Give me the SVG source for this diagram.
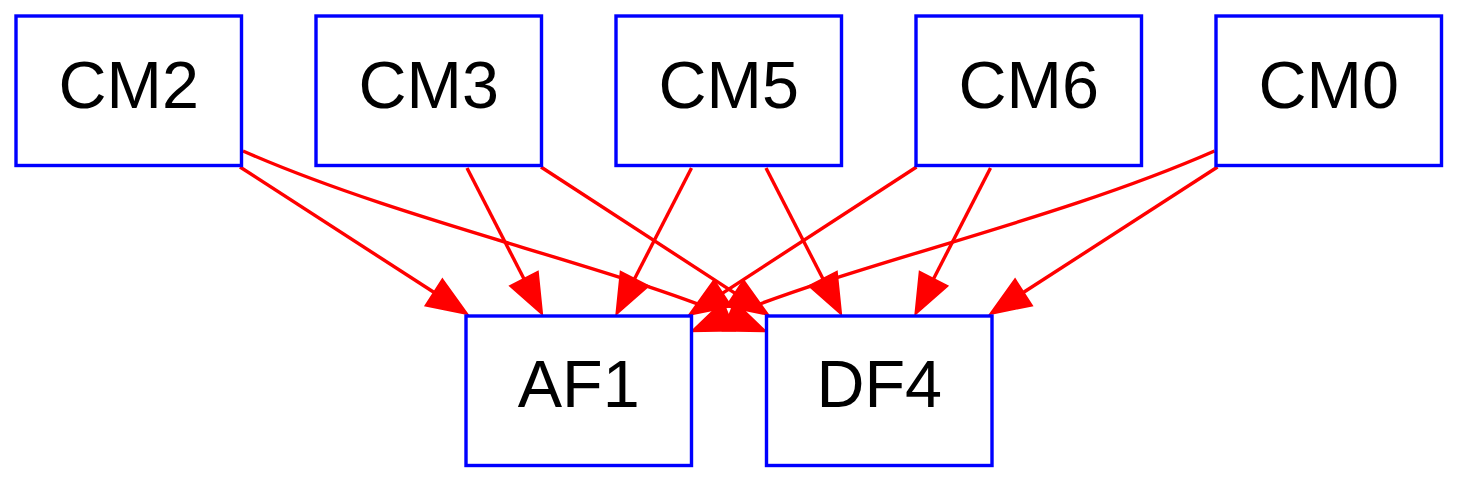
<svg xmlns="http://www.w3.org/2000/svg" width="1458" height="483" viewBox="0 0 1458 483">
  <style>
    .node rect { fill: #ffffff; stroke: #0000ff; stroke-width: 3.4; }
    .node text { font-family: "Liberation Sans", Arial, sans-serif; font-size: 66.5px; fill: #000000; text-anchor: middle; }
    .edge { fill: none; stroke: #ff0000; stroke-width: 3.4; marker-end: url(#ah); }
  </style>
  <defs>
    <marker id="ah" markerUnits="userSpaceOnUse" viewBox="-5 -20 60 40" markerWidth="60" markerHeight="40" refX="0" refY="0" orient="auto" overflow="visible">
      <polygon points="0,-14.5 37,0 0,14.5" fill="#ff0000" stroke="#ff0000" stroke-width="3.4"/>
    </marker>
  </defs>
  <rect x="0" y="0" width="1458" height="483" fill="#ffffff"/>

  <g id="connectors">
    <path class="edge" d="M240,167 L434.6,292.8"/>
    <path class="edge" d="M243,151 C400,220 600,263 729.5,316.4"/>
    <path class="edge" d="M467,168 L524.3,279.5"/>
    <path class="edge" d="M541,167 L735.6,293.6"/>
    <path class="edge" d="M691.5,168 L634.2,279.5"/>
    <path class="edge" d="M766,168 L823.3,279.5"/>
    <path class="edge" d="M916.5,167 L721.9,293.6"/>
    <path class="edge" d="M990.5,168 L933.2,279.5"/>
    <path class="edge" d="M1214.5,151 C1057.5,220 857.5,263 728,316.4"/>
    <path class="edge" d="M1217.5,167 L1022.9,292.8"/>
  </g>

  <g id="CM2" class="node">
    <rect x="16" y="16" width="225.5" height="149.5"/>
    <text x="128.75" y="107.5">CM2</text>
  </g>
  <g id="CM3" class="node">
    <rect x="316" y="16" width="225.5" height="149.5"/>
    <text x="428.75" y="107.5">CM3</text>
  </g>
  <g id="CM5" class="node">
    <rect x="616" y="16" width="225.5" height="149.5"/>
    <text x="728.75" y="107.5">CM5</text>
  </g>
  <g id="CM6" class="node">
    <rect x="916" y="16" width="225.5" height="149.5"/>
    <text x="1028.75" y="107.5">CM6</text>
  </g>
  <g id="CM0" class="node">
    <rect x="1216" y="16" width="225.5" height="149.5"/>
    <text x="1328.75" y="107.5">CM0</text>
  </g>
  <g id="AF1" class="node">
    <rect x="466" y="316" width="225.5" height="149.5"/>
    <text x="578.75" y="407">AF1</text>
  </g>
  <g id="DF4" class="node">
    <rect x="766.5" y="316" width="225.5" height="149.5"/>
    <text x="879.25" y="407">DF4</text>
  </g>
</svg>
